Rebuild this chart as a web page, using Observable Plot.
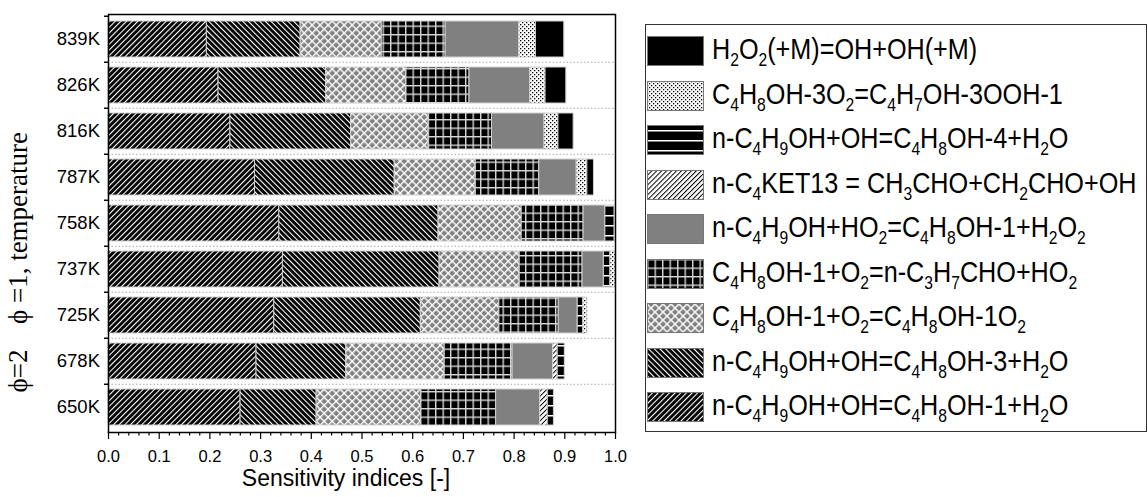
<!DOCTYPE html>
<html><head><meta charset="utf-8">
<script src="https://cdn.jsdelivr.net/npm/d3@7"></script>
<script src="https://cdn.jsdelivr.net/npm/@observablehq/plot@0.6"></script>
<style>
body{margin:0;background:#fff;}
#wrap{position:relative;width:1148px;height:497px;overflow:hidden;font-family:"Liberation Sans",Arial,sans-serif;background:#fff;}
#legend{position:absolute;left:645px;top:24px;width:500px;height:406px;border:1px solid #333;}
.row{position:absolute;left:1px;height:40px;display:flex;align-items:center;white-space:nowrap;}
.sw{display:block;}
.lt{display:inline-block;margin-left:8px;font-size:30px;line-height:30px;transform:scaleX(0.84);transform-origin:left center;color:#000;}
.s{font-size:0.62em;position:relative;top:7px;}
.yt{position:absolute;font-family:"Liberation Serif","DejaVu Serif",serif;font-size:27px;white-space:nowrap;transform:translate(-50%,-50%) rotate(-90deg);line-height:1.15;}
</style></head>
<body>
<svg width="0" height="0" style="position:absolute">
<defs>
<pattern id="p0" width="4" height="4" patternUnits="userSpaceOnUse" patternTransform="rotate(45)"><rect width="4" height="4" fill="#000"/><rect width="1.1" height="4" fill="#fff"/></pattern>
<pattern id="p1" width="4" height="4" patternUnits="userSpaceOnUse" patternTransform="rotate(-45)"><rect width="4" height="4" fill="#000"/><rect width="1.1" height="4" fill="#fff"/></pattern>
<pattern id="p2" width="5.66" height="5.66" patternUnits="userSpaceOnUse" patternTransform="rotate(45)"><rect width="5.66" height="5.66" fill="#808080"/><rect width="1.4" height="5.66" fill="#fff"/><rect width="5.66" height="1.4" fill="#fff"/></pattern>
<pattern id="p3" width="7.5" height="8.5" patternUnits="userSpaceOnUse"><rect width="7.5" height="8.5" fill="#000"/><rect width="1.4" height="8.5" fill="#d8d8d8"/><rect width="7.5" height="1.4" fill="#d8d8d8"/></pattern>
<pattern id="p5" width="3.5" height="3.5" patternUnits="userSpaceOnUse" patternTransform="rotate(45)"><rect width="3.5" height="3.5" fill="#fff"/><rect width="1" height="3.5" fill="#000"/></pattern>
<pattern id="p6" width="10" height="10" patternUnits="userSpaceOnUse"><rect width="10" height="10" fill="#000"/><rect y="5" width="10" height="1.5" fill="#fff"/></pattern>
<pattern id="p7" width="4" height="4" patternUnits="userSpaceOnUse"><rect width="4" height="4" fill="#fff"/><rect width="1.3" height="1.3" fill="#000"/><rect x="2" y="2" width="1.3" height="1.3" fill="#000"/></pattern>
</defs>
</svg>
<div id="wrap"></div>
<script>
// Categories (top to bottom)
const temps = ["839K","826K","816K","787K","758K","737K","725K","678K","650K"];
// Reactions in stacking order (left to right)
const reactions = [
  "n-C_4H_9OH+OH=C_4H_8OH-1+H_2O",
  "n-C_4H_9OH+OH=C_4H_8OH-3+H_2O",
  "C_4H_8OH-1+O_2=C_4H_8OH-1O_2",
  "C_4H_8OH-1+O_2=n-C_3H_7CHO+HO_2",
  "n-C_4H_9OH+HO_2=C_4H_8OH-1+H_2O_2",
  "n-C_4KET13 = CH_3CHO+CH_2CHO+OH",
  "n-C_4H_9OH+OH=C_4H_8OH-4+H_2O",
  "C_4H_8OH-3O_2=C_4H_7OH-3OOH-1",
  "H_2O_2(+M)=OH+OH(+M)"
];
// Sensitivity indices per reaction, in temps order
const vOH1    = [0.194, 0.217, 0.2405, 0.289, 0.337, 0.344, 0.327, 0.292, 0.2605];
const vOH3    = [0.185, 0.212, 0.238, 0.2755, 0.314, 0.309, 0.289, 0.177, 0.150];
const v1O2    = [0.160, 0.158, 0.153, 0.160, 0.164, 0.158, 0.155, 0.194, 0.206];
const vC3CHO  = [0.126, 0.125, 0.125, 0.125, 0.122, 0.124, 0.117, 0.134, 0.148];
const vHO2    = [0.145, 0.120, 0.1035, 0.074, 0.043, 0.042, 0.0375, 0.080, 0.087];
const vKET13  = [0, 0, 0, 0, 0, 0, 0, 0.009, 0.015];
const vOH4    = [0, 0, 0, 0, 0.018, 0.013, 0.011, 0.014, 0.012];
const v3O2    = [0.033, 0.030, 0.0274, 0.021, 0, 0.010, 0.008, 0, 0];
const vH2O2   = [0.056, 0.041, 0.030, 0.013, 0, 0, 0, 0, 0];
const seriesValues = [vOH1, vOH3, v1O2, vC3CHO, vHO2, vKET13, vOH4, v3O2, vH2O2];
const fills = ["url(#p0)","url(#p1)","url(#p2)","url(#p3)","#808080","url(#p5)","url(#p6)","url(#p7)","#000"];
const xTicks = ["0.0","0.1","0.2","0.3","0.4","0.5","0.6","0.7","0.8","0.9","1.0"];

const rows = [];
reactions.forEach((r, si) => temps.forEach((t, ti) => {
  const v = seriesValues[si][ti];
  if (v > 0) rows.push({temp: t, reaction: r, value: v});
}));

const W = 1148, H = 497, mL = 108, mR = 533, mT = 14, mB = 65;
const step = (H - mT - mB) / temps.length;
const major = xTicks.map(Number);
const minor = d3.range(0, 50).map(i => i * 0.02).filter(v => Math.abs(v * 10 - Math.round(v * 10)) > 1e-6);

const chart = Plot.plot({
  width: W, height: H,
  marginLeft: mL, marginRight: mR, marginTop: mT, marginBottom: mB,
  style: {fontFamily: '"Liberation Sans", Arial, sans-serif', background: "white", color: "black"},
  x: {domain: [0, 1]},
  y: {domain: temps, paddingInner: 0.22, paddingOuter: 0.11},
  color: {domain: reactions, range: fills},
  marks: [
    Plot.ruleY(temps.slice(1), {y: d => d, dy: -step / 2, stroke: "#aaa", strokeDasharray: "1.5,2"}),
    Plot.barX(rows, Plot.stackX({x: "value", y: "temp", fill: "reaction", stroke: "#d0d0d0", strokeWidth: 1})),
    Plot.axisX(minor, {tickSize: 3.5, text: null, label: null, strokeWidth: 1.2}),
    Plot.axisX(major, {tickSize: 7, tickPadding: 10.5, tickFormat: (d, i) => xTicks[i], fontSize: 16.5, label: null, strokeWidth: 1.2}),
    Plot.axisY({tickSize: 0, tickPadding: 8.5, fontSize: 18.5, label: null}),
    Plot.axisY({tickSize: 4, dy: -step / 2, text: null, label: null, strokeWidth: 1.5}),
    Plot.frame({stroke: "black", strokeWidth: 1.5}),
    Plot.text(["Sensitivity indices [-]"], {text: d => d, frameAnchor: "bottom", dy: 53, dx: -16, fontSize: 23})
  ]
});
const wrap = document.getElementById("wrap");
chart.style.position = "absolute"; chart.style.left = "0"; chart.style.top = "0";
wrap.appendChild(chart);

// Legend (top to bottom = reverse of stacking order)
const sub = s => s.replace(/_(\d)/g, '<span class="s">$1</span>');
const legend = document.createElement("div");
legend.id = "legend";
const order = d3.range(reactions.length).reverse();
order.forEach((si, k) => {
  const center = 51 + k * 44.5;
  const row = document.createElement("div");
  row.className = "row";
  row.style.top = (center - 20 - 25) + "px";
  row.innerHTML = `<svg class="sw" width="57" height="30"><rect x="0.5" y="0.5" width="56" height="29" fill="${fills[si]}" stroke="#777" stroke-width="1"/></svg><span class="lt">${sub(reactions[si])}</span>`;
  legend.appendChild(row);
});
wrap.appendChild(legend);

// Y title
const t1 = document.createElement("div");
t1.className = "yt"; t1.style.left = "19px"; t1.style.top = "228px";
t1.textContent = "\u03D5 =1, temperature";
const t2 = document.createElement("div");
t2.className = "yt"; t2.style.left = "19px"; t2.style.top = "371px";
t2.textContent = "\u03D5=2";
wrap.appendChild(t1); wrap.appendChild(t2);
</script>
</body></html>
